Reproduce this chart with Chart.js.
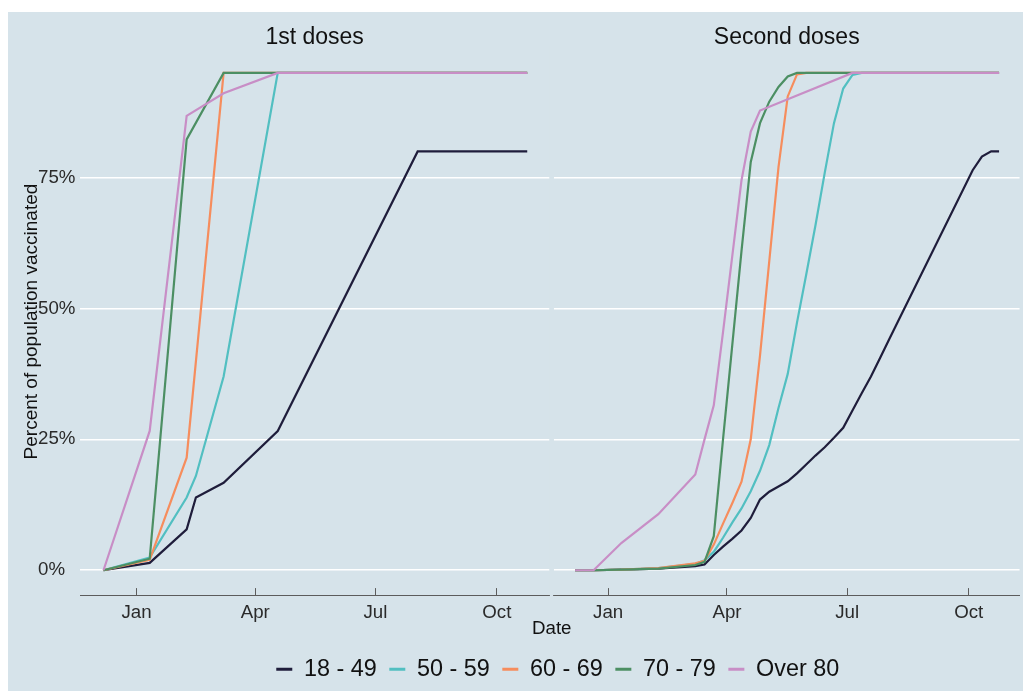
<!DOCTYPE html>
<html><head><meta charset="utf-8">
<script src="https://cdn.jsdelivr.net/npm/chart.js@4/dist/chart.umd.min.js"></script>
<style>
html,body{margin:0;padding:0;background:#ffffff;overflow:hidden;width:1023px;height:691px;}
#bg{position:absolute;left:8px;top:12px;width:1015px;height:679px;background:#d6e3ea;}
#wrap{position:absolute;left:0;top:0;width:1023px;height:691px;}
</style></head><body>
<div id="bg"></div>
<div id="wrap"><canvas id="c"></canvas></div>
<script>
// ---------- data ----------
const seriesNames = ['18 - 49', '50 - 59', '60 - 69', '70 - 79', 'Over 80'];
const seriesColors = ['#1f1d3b', '#52bfc1', '#f68d5d', '#4c8f63', '#c88ec6'];
const panelTitles = ['1st doses', 'Second doses'];
// x values: days since 1 Jan 2021
const tickDays = [0, 90, 181, 273];
const tickLabels = ['Jan', 'Apr', 'Jul', 'Oct'];
const yTicks = [0, 25, 50, 75];

// 1st doses
const firstDates  = [-25, 10, 38, 45, 66, 107, 213, 296];
const first1849   = [0, 1.4, 7.8, 13.9, 16.7, 26.6, 80, 80];
const first5059   = [0, 2.4, 13.9, 18.0, 37.0, 95, 95, 95];
const first6069   = [0, 2.0, 21.5, null, 95, 95, 95, 95];
const first7079   = [0, 2.2, 82.3, null, 95, 95, 95, 95];
const firstOver80 = [0, 26.6, 86.8, null, 91.1, 95, 95, 95];

// Second doses
const secondDates  = [-25, -11, 10, 38, 66, 73, 80, 87, 94, 101, 108, 115, 122, 129, 136, 143, 150, 157, 164, 171, 178, 185, 192, 199, 206, 213, 276, 283, 290, 296];
const second1849   = [0, 0, 0.1, 0.3, 0.8, 1.1, 2.9, 4.5, 6.0, 7.6, 10.0, 13.5, 15.0, 16.0, 17.0, 18.5, 20.2, 21.9, 23.5, 25.3, 27.2, 30.5, 33.8, 37.0, 40.6, 44.2, 76.4, 79.0, 80.0, 80.0];
const second5059   = [0, 0, 0.1, 0.4, 1.2, 1.9, 3.5, 6.2, 9.1, 11.8, 15.1, 19.0, 23.9, 31.0, 37.5, 47.3, 56.5, 65.9, 75.9, 85.4, 92.0, 94.6, 95, 95, 95, 95, 95, 95, 95, 95];
const second6069   = [0, 0, 0.1, 0.4, 1.3, 1.8, 4.9, 8.9, 12.8, 16.9, 25.0, 41.0, 59.0, 77.0, 90.5, 94.7, 95, 95, 95, 95, 95, 95, 95, 95, 95, 95, 95, 95, 95, 95];
const second7079   = [0, 0, 0.1, 0.3, 1.0, 1.6, 6.5, 25.0, 43.0, 61.0, 78.0, 85.4, 89.5, 92.3, 94.3, 95, 95, 95, 95, 95, 95, 95, 95, 95, 95, 95, 95, 95, 95, 95];
const secondOver80 = [0, 0, 5.2, 10.7, 18.3, 25.0, 31.5, 45.5, 60.0, 74.5, 83.8, 87.8, null, null, null, null, null, null, null, null, null, 95, 95, 95, 95, 95, 95, 95, 95, 95];

// ---------- chart ----------
const BG = '#d6e3ea';
const FONT = "'Liberation Sans', Arial, Helvetica, sans-serif";
Chart.defaults.font.family = FONT;

const firstSeries = [first1849, first5059, first6069, first7079, firstOver80];
const secondSeries = [second1849, second5059, second6069, second7079, secondOver80];
const toPts = (dates, vals) => dates.map((d, i) => ({x: d, y: vals[i]}));

const datasets = [];
[[firstDates, firstSeries, 'xl'], [secondDates, secondSeries, 'xr']].forEach(([dates, ser, ax]) => {
  ser.forEach((vals, i) => {
    datasets.push({
      label: seriesNames[i],
      data: toPts(dates, vals),
      xAxisID: ax, yAxisID: 'y',
      borderColor: seriesColors[i], backgroundColor: seriesColors[i],
      borderWidth: 2.2, pointRadius: 0, pointHoverRadius: 0,
      tension: 0, spanGaps: true, order: 4 - i
    });
  });
});

const axisFont = {size: 18.7, family: FONT, lineHeight: 1};
const titleFont = {size: 23, family: FONT, lineHeight: 1};
const setTicks = vals => s => { s.ticks = vals.map(v => ({value: v})); };

function panelX(min, max, weight) {
  return {
    type: 'linear', position: 'bottom', stack: 'panels', stackWeight: weight,
    min: min, max: max,
    afterBuildTicks: setTicks(tickDays),
    ticks: {callback: v => tickLabels[tickDays.indexOf(v)], font: axisFont, color: '#2a2a2a',
            padding: 15.2, maxRotation: 0, autoSkip: false},
    grid: {display: true, drawOnChartArea: false, drawTicks: true, tickLength: -7, tickColor: '#5c5c5c', tickWidth: 1},
    border: {display: true, color: '#5c5c5c', width: 1},
    afterFit: s => { s.height = 32; }
  };
}
function blankAxis(pos, stack, weight, h, title, tfont, pad) {
  return {
    type: 'linear', position: pos, stack: stack, stackWeight: weight,
    ticks: {display: false}, grid: {display: false, drawTicks: false}, border: {display: false},
    title: title ? {display: true, text: title, font: tfont, color: '#111', padding: pad} : {display: false},
    afterFit: s => { s.height = h; }
  };
}

const gapPlugin = {
  id: 'panelGap',
  afterLayout(chart) {
    // nudge the shared legend and x title to where the reference centres them
    if (chart.legend) { chart.legend.left += 8; chart.legend.right += 8; }
    const d = chart.scales.xd; d.left += 2; d.right += 2;
  },
  beforeDatasetsDraw(chart) {
    const ctx = chart.ctx, ca = chart.chartArea, s = chart.scales.xgap;
    ctx.save();
    ctx.fillStyle = BG;
    ctx.fillRect(s.left, ca.top - 2, s.right - s.left, ca.bottom - ca.top + 2);
    ctx.restore();
  }
};

new Chart(document.getElementById('c'), {
  type: 'line',
  data: {datasets: datasets},
  plugins: [gapPlugin],
  options: {
    responsive: true, maintainAspectRatio: false, animation: false, devicePixelRatio: 1,
    layout: {padding: {left: 38, right: 0, top: 0, bottom: 0}},
    plugins: {
      tooltip: {enabled: false},
      legend: {
        position: 'bottom', fullSize: false,
        labels: {
          boxWidth: 16, boxHeight: 3, padding: 12.5, color: '#111',
          font: {size: 23.4, family: FONT},
          generateLabels: chart => Chart.defaults.plugins.legend.labels.generateLabels(chart)
            .filter(l => l.datasetIndex < 5).map(l => Object.assign(l, {lineWidth: 0})),
          sort: (a, b) => a.datasetIndex - b.datasetIndex
        }
      }
    },
    scales: {
      xl: panelX(-42.8, 312.7, 471),
      xgap: blankAxis('bottom', 'panels', 4.7, 32),
      xr: panelX(-41, 311.5, 467.3),
      xd: Object.assign(blankAxis('bottom', undefined, 1, 18, 'Date', axisFont, {top: 0, bottom: 7.2}), {weight: 1}),
      // top strips are laid out in reverse order of definition
      tr: blankAxis('top', 'strips', 467.3, 48, panelTitles[1], titleFont, {top: 26.5, bottom: 0}),
      tg: blankAxis('top', 'strips', 4.7, 48),
      tl: blankAxis('top', 'strips', 471, 48, panelTitles[0], titleFont, {top: 26.5, bottom: 0}),
      y: {
        type: 'linear', position: 'left', min: -4.75, max: 99.75,
        afterBuildTicks: setTicks(yTicks),
        ticks: {callback: v => v + '%', crossAlign: 'far', font: axisFont, color: '#2a2a2a'},
        grid: {color: '#ffffff', lineWidth: 1.6, drawTicks: false},
        border: {display: false},
        title: {display: true, text: 'Percent of population vaccinated', font: {size: 19, family: FONT, lineHeight: 1},
                color: '#111', padding: {top: -15.5, bottom: 0}},
        afterFit: s => { s.width = 42; }
      }
    }
  }
});
</script>
</body></html>
